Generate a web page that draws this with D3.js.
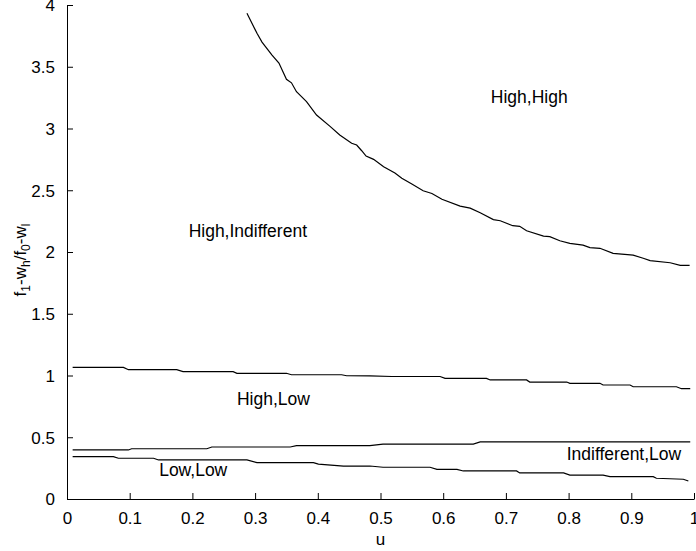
<!DOCTYPE html>
<html>
<head>
<meta charset="utf-8">
<script src="https://cdn.jsdelivr.net/npm/d3@7"></script>
<style>
	body { margin: 0; background: #fff; }
	svg { display: block; font-family: "Liberation Sans", Arial, sans-serif; }
	.axis path, .axis line { stroke: #000; stroke-width: 1px; }
	.axis text { font-size: 17px; fill: #000; }
	.boundary { fill: none; stroke: #000; stroke-width: 1.2px; }
	.region-label { font-size: 17.5px; fill: #000; }
</style>
</head>
<body>
<svg id="plot" width="696" height="551"></svg>
<script>
// tick labels
const x_ticks = [0, 0.1, 0.2, 0.3, 0.4, 0.5, 0.6, 0.7, 0.8, 0.9, 1];
const y_ticks = [0, 0.5, 1, 1.5, 2, 2.5, 3, 3.5, 4];

// boundary between High,High and High,Indifferent  [u, f]
const high_high = [
	[0.287, 3.933], [0.303, 3.771], [0.311, 3.70], [0.327, 3.595], [0.338, 3.53],
	[0.350, 3.398], [0.358, 3.37], [0.366, 3.298], [0.382, 3.217], [0.398, 3.109],
	[0.420, 3.015], [0.435, 2.947], [0.454, 2.880], [0.462, 2.866], [0.470, 2.82],
	[0.477, 2.777], [0.489, 2.75], [0.505, 2.691], [0.523, 2.64], [0.534, 2.597],
	[0.550, 2.55], [0.568, 2.496], [0.582, 2.474], [0.598, 2.427], [0.627, 2.372],
	[0.643, 2.355], [0.659, 2.318], [0.680, 2.262], [0.691, 2.253], [0.711, 2.213],
	[0.722, 2.208], [0.733, 2.172], [0.760, 2.128], [0.770, 2.124], [0.786, 2.091],
	[0.802, 2.070], [0.823, 2.056], [0.834, 2.035], [0.850, 2.030], [0.871, 1.989],
	[0.903, 1.975], [0.919, 1.949], [0.930, 1.930], [0.962, 1.913], [0.978, 1.892],
	[0.993, 1.892]
];

// boundary between High,Indifferent and High,Low
const high_low = [
	[0.009, 1.066], [0.090, 1.066], [0.098, 1.047], [0.175, 1.047], [0.185, 1.031],
	[0.265, 1.031], [0.271, 1.018], [0.350, 1.018], [0.358, 1.006], [0.438, 1.006],
	[0.446, 0.998], [0.483, 0.997], [0.518, 0.992], [0.595, 0.992], [0.603, 0.977],
	[0.669, 0.977], [0.675, 0.964], [0.733, 0.964], [0.738, 0.947], [0.797, 0.947],
	[0.802, 0.937], [0.850, 0.937], [0.855, 0.923], [0.898, 0.923], [0.903, 0.909],
	[0.972, 0.909], [0.980, 0.893], [0.994, 0.893]
];

// upper edge of Indifferent,Low
const indiff_low = [
	[0.009, 0.397], [0.098, 0.397], [0.103, 0.407], [0.223, 0.407], [0.231, 0.421],
	[0.356, 0.421], [0.366, 0.432], [0.483, 0.432], [0.504, 0.445], [0.648, 0.445],
	[0.659, 0.462], [0.994, 0.462]
];

// upper edge of Low,Low
const low_low = [
	[0.009, 0.343], [0.074, 0.343], [0.082, 0.330], [0.138, 0.330], [0.146, 0.316],
	[0.287, 0.316], [0.303, 0.294], [0.393, 0.294], [0.401, 0.283], [0.441, 0.267],
	[0.483, 0.267], [0.504, 0.257], [0.579, 0.257], [0.590, 0.240], [0.622, 0.240],
	[0.632, 0.227], [0.717, 0.227], [0.722, 0.211], [0.792, 0.211], [0.802, 0.194],
	[0.855, 0.194], [0.866, 0.181], [0.935, 0.181], [0.940, 0.168], [0.983, 0.160],
	[0.991, 0.146]
];

const region_labels = [
	{ text: "High,High", u: 0.676, f: 3.21 },
	{ text: "High,Indifferent", u: 0.194, f: 2.12 },
	{ text: "High,Low", u: 0.271, f: 0.762 },
	{ text: "Indifferent,Low", u: 0.797, f: 0.316 },
	{ text: "Low,Low", u: 0.147, f: 0.186 }
];

const svg = d3.select("#plot");
const margin = { left: 67, top: 5, right: 2, bottom: 52 };
const width = 696, height = 551;

const x = d3.scaleLinear().domain([0, 1]).range([margin.left, width - margin.right]);
const y = d3.scaleLinear().domain([0, 4]).range([height - margin.bottom, margin.top]);

svg.append("rect").attr("width", width).attr("height", height).attr("fill", "#fff");

// axes, ticks point inward like matlab
const x_axis = d3.axisBottom(x)
	.tickValues(x_ticks)
	.tickFormat(d => String(d))
	.tickSizeInner(-6)
	.tickSizeOuter(0)
	.tickPadding(12);

const y_axis = d3.axisLeft(y)
	.tickValues(y_ticks)
	.tickFormat(d => String(d))
	.tickSizeInner(-6)
	.tickSizeOuter(0)
	.tickPadding(12);

svg.append("g")
	.attr("class", "axis")
	.attr("transform", "translate(0," + y(0) + ")")
	.call(x_axis)
	.call(g => g.selectAll("text").attr("dy", "0.75em"));

svg.append("g")
	.attr("class", "axis")
	.attr("transform", "translate(" + x(0) + ",0)")
	.call(y_axis)
	.call(g => g.selectAll("text").attr("dy", "0.35em"));

// boundary curves
const line = d3.line()
	.x(d => x(d[0]))
	.y(d => y(d[1]));

svg.selectAll(".boundary")
	.data([high_high, high_low, indiff_low, low_low])
	.enter()
	.append("path")
	.classed("boundary", true)
	.attr("d", line);

svg.selectAll(".region-label")
	.data(region_labels)
	.enter()
	.append("text")
	.classed("region-label", true)
	.attr("x", d => x(d.u))
	.attr("y", d => y(d.f))
	.text(d => d.text);

// axis titles
svg.append("text")
	.attr("x", x(0.5))
	.attr("y", 545)
	.attr("text-anchor", "middle")
	.style("font-size", "17px")
	.text("u");

const y_title = svg.append("text")
	.attr("transform", "translate(26,260) rotate(-90)")
	.attr("text-anchor", "middle")
	.style("font-size", "17px");

const parts = [["f", false], ["1", true], ["-w", false], ["h", true],
	["/f", false], ["0", true], ["-w", false], ["l", true]];
parts.forEach((p, i) => {
	const prev_sub = i > 0 && parts[i - 1][1];
	const dy = p[1] ? 4 : (prev_sub ? -4 : 0);
	y_title.append("tspan")
		.attr("dy", dy)
		.style("font-size", p[1] ? "12px" : "17px")
		.text(p[0]);
});
</script>
</body>
</html>
